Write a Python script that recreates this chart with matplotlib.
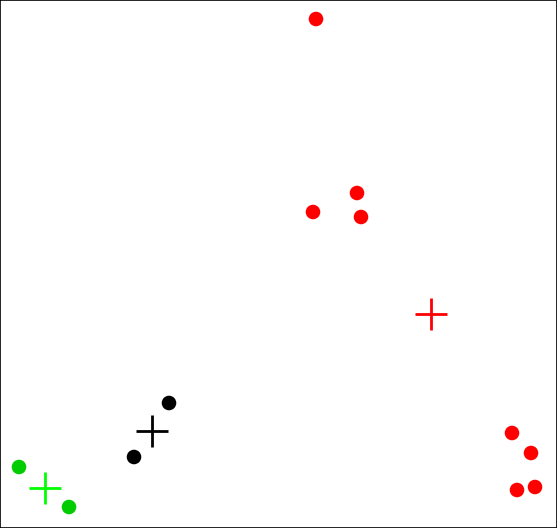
import matplotlib
matplotlib.use("Agg")
import matplotlib.pyplot as plt

# cluster points (y grows downward)
red_x = [316, 357, 313, 361, 512, 531, 517, 535]
red_y = [19, 193, 212, 217, 433, 453, 490, 487]
black_x = [169, 134]
black_y = [403, 457]
green_x = [19, 69]
green_y = [467, 507]

# cluster centres
centre_x = [431, 152, 45]
centre_y = [314, 431, 488]
centre_colors = ['#ff0000', '#000000', '#00ff00']

fig = plt.figure(figsize=(5.57, 5.28), dpi=100)
ax = fig.add_axes([0, 0, 1, 1])

ax.scatter(red_x, red_y, s=110, c='#ff0000', edgecolors='none')
ax.scatter(black_x, black_y, s=110, c='#000000', edgecolors='none')
ax.scatter(green_x, green_y, s=110, c='#00cc00', edgecolors='none')
for cx, cy, col in zip(centre_x, centre_y, centre_colors):
    ax.plot(cx, cy, marker='+', markersize=23, mew=2.0, color=col, linestyle='none')

ax.set_xlim(0, 557)
ax.set_ylim(528, 0)
ax.set_xticks([])
ax.set_yticks([])
for sp in ax.spines.values():
    sp.set_linewidth(1.2)
    sp.set_color('black')

fig.savefig('out.png', dpi=100)
plt.close()
